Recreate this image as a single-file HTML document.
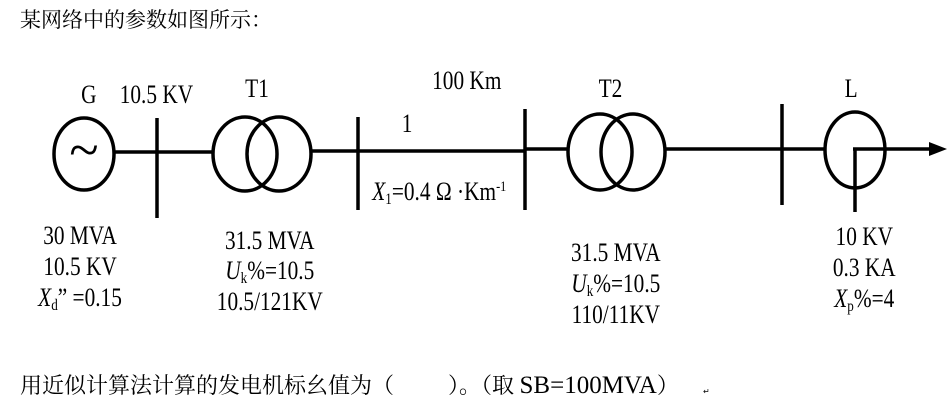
<!DOCTYPE html>
<html><head><meta charset="utf-8"><style>
html,body{margin:0;padding:0;background:#fff;width:950px;height:408px;overflow:hidden}
svg{display:block}
text{font-family:"Liberation Serif","Noto Serif CJK SC",serif;fill:#000}
.cn{font-family:"Liberation Serif","Noto Serif CJK SC",serif}
</style></head><body>
<svg width="950" height="408" viewBox="0 0 950 408">
<text x="20" y="27" font-size="21" class="cn">某网络中的参数如图所示：</text>
<g stroke="#000" stroke-width="3.5" fill="none">
<ellipse cx="84" cy="154" rx="30" ry="36"/>
<line x1="114" y1="152" x2="213" y2="152"/>
<line x1="157" y1="118" x2="157" y2="218"/>
<ellipse cx="245" cy="154" rx="32" ry="37"/>
<ellipse cx="279" cy="154" rx="32" ry="37"/>
<line x1="311" y1="151" x2="525" y2="151"/>
<line x1="358" y1="117" x2="358" y2="210"/>
<line x1="525" y1="109" x2="525" y2="210"/>
<line x1="525" y1="149" x2="568" y2="149"/>
<ellipse cx="600" cy="152" rx="32" ry="38"/>
<ellipse cx="633" cy="152" rx="32" ry="38"/>
<line x1="665" y1="149" x2="825" y2="149"/>
<line x1="782" y1="104" x2="782" y2="205"/>
<ellipse cx="855" cy="150" rx="30" ry="38"/>
<line x1="853" y1="149" x2="932" y2="149"/>
<line x1="855" y1="148" x2="855" y2="212"/>
</g>
<polygon points="929,142 947,149 929,156" fill="#000"/>
<text x="84" y="168" font-size="54" text-anchor="middle">~</text>
<g font-size="26" transform="scale(0.82,1)">
<text x="99" y="103">G</text>
<text x="146" y="103">10.5 KV</text>
<text x="299" y="97">T1</text>
<text x="527" y="89">100 Km</text>
<text x="490" y="132">1</text>
<text x="454" y="200"><tspan font-style="italic">X</tspan><tspan font-size="16" dy="4">1</tspan><tspan dy="-4">=0.4 Ω ·Km</tspan><tspan font-size="15" dy="-9">-1</tspan></text>
<text x="730" y="97">T2</text>
<text x="1030" y="97">L</text>
<text x="97.6" y="244" text-anchor="middle">30 MVA</text>
<text x="97.6" y="275" text-anchor="middle">10.5 KV</text>
<text x="97.6" y="306" text-anchor="middle"><tspan font-style="italic">X</tspan><tspan font-size="16" dy="4">d</tspan><tspan dy="-4">” =0.15</tspan></text>
<text x="329" y="249" text-anchor="middle">31.5 MVA</text>
<text x="329" y="279" text-anchor="middle"><tspan font-style="italic">U</tspan><tspan font-size="16" dy="4">k</tspan><tspan dy="-4">%=10.5</tspan></text>
<text x="329" y="310" text-anchor="middle">10.5/121KV</text>
<text x="751" y="261" text-anchor="middle">31.5 MVA</text>
<text x="751" y="292" text-anchor="middle"><tspan font-style="italic">U</tspan><tspan font-size="16" dy="4">k</tspan><tspan dy="-4">%=10.5</tspan></text>
<text x="751" y="323" text-anchor="middle">110/11KV</text>
<text x="1054" y="245" text-anchor="middle">10 KV</text>
<text x="1054" y="276" text-anchor="middle">0.3 KA</text>
<text x="1054" y="307" text-anchor="middle"><tspan font-style="italic">X</tspan><tspan font-size="16" dy="4">p</tspan><tspan dy="-4">%=4</tspan></text>
</g>
<text x="20" y="393" font-size="22" class="cn">用近似计算法计算的发电机标幺值为（</text>
<text x="448" y="393" font-size="22" class="cn">）。（取 <tspan font-size="25">SB=100MVA</tspan>）</text>
<text x="703" y="394" font-size="8" fill="#888">↵</text>
</svg>
</body></html>
